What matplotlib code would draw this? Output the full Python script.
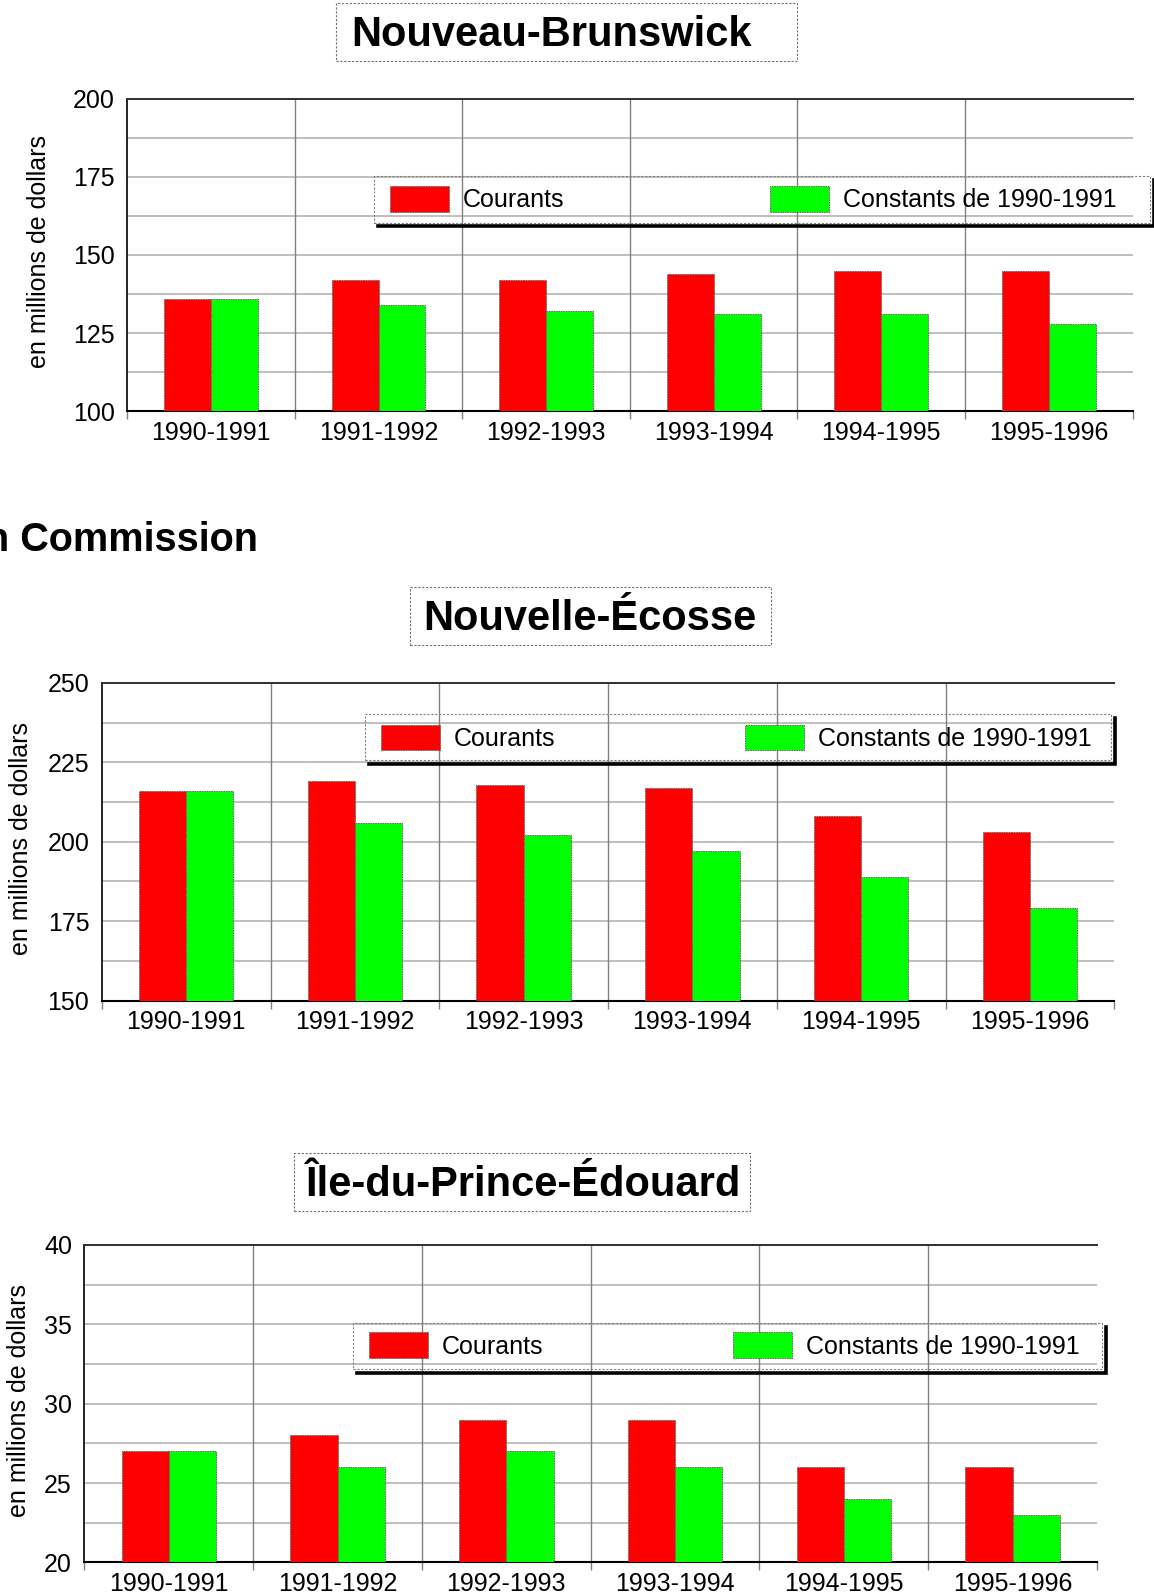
import numpy as np
import matplotlib
matplotlib.use("Agg")
import matplotlib.pyplot as plt
from matplotlib.patches import Rectangle
from matplotlib.lines import Line2D

# ─── Données (en millions de dollars) ─────────────────────────────────────────
PERIODES = ["1990-1991", "1991-1992", "1992-1993",
            "1993-1994", "1994-1995", "1995-1996"]

NB_COURANTS  = [136, 142, 142, 144, 145, 145]
NB_CONSTANTS = [136, 134, 132, 131, 131, 128]
NB_YTICKS    = [100, 125, 150, 175, 200]

NE_COURANTS  = [216, 219, 218, 217, 208, 203]
NE_CONSTANTS = [216, 206, 202, 197, 189, 179]
NE_YTICKS    = [150, 175, 200, 225, 250]

IPE_COURANTS  = [27, 28, 29, 29, 26, 26]
IPE_CONSTANTS = [27, 26, 27, 26, 24, 23]
IPE_YTICKS    = [20, 25, 30, 35, 40]

SERIES = ["Courants", "Constants de 1990-1991"]
YLABEL = "en millions de dollars"
FS = 18

plt.rcParams["font.family"] = ["Liberation Sans", "DejaVu Sans"]

# page layout grid in px (origin top-left)
W, H = 1134, 1568


def fx(px):
    return px / W


def fy(py):
    return 1 - py / H


fig = plt.figure(figsize=(11.54, 15.96), dpi=100)
fig.patch.set_facecolor("white")


def title_box(text, box, text_x):
    x0, y0, x1, y1 = box
    fig.patches.append(Rectangle((fx(x0), fy(y1)), fx(x1) - fx(x0), fy(y0) - fy(y1),
                                 transform=fig.transFigure, fill=False,
                                 ec="#707070", lw=0.8, ls=(0, (2, 1.5))))
    fig.text(fx(text_x), fy((y0 + y1) / 2 + 3), text, ha="left", va="center",
             fontsize=30, fontweight="bold")


def panel(rect, courants, constants, yticks, leg_box, leg_anchor, colspace, ylab_x):
    l, t, r, b = rect
    ax = fig.add_axes([fx(l), fy(b), fx(r) - fx(l), fy(t) - fy(b)])
    x = np.arange(len(PERIODES))
    w = 0.28
    bar_kw = dict(width=w, edgecolor="#606060", linewidth=0.7,
                  linestyle=(0, (1.5, 1)), zorder=3)
    b1 = ax.bar(x - w / 2, courants, color="#ff0000", label=SERIES[0], **bar_kw)
    b2 = ax.bar(x + w / 2, constants, color="#00ff00", label=SERIES[1], **bar_kw)

    step = yticks[1] - yticks[0]
    ax.set_ylim(yticks[0], yticks[-1])
    ax.set_xlim(-0.5, len(PERIODES) - 0.5)
    ax.set_yticks(yticks)
    ax.set_yticks(np.array(yticks[:-1]) + step / 2, minor=True)
    ax.set_xticks(x)
    ax.set_xticklabels(PERIODES)
    ax.set_xticks(np.arange(-0.5, len(PERIODES)), minor=True)

    ax.tick_params(axis="x", which="major", length=0, pad=7, labelsize=FS)
    ax.tick_params(axis="x", which="minor", length=6, width=1, color="#808080",
                   direction="out")
    ax.tick_params(axis="y", which="both", length=0, pad=9, labelsize=FS)

    ax.set_axisbelow(True)
    ax.grid(axis="y", which="both", color="#b4b4b4", linewidth=1.2)
    for bd in np.arange(0.5, len(PERIODES) - 1):
        ax.axvline(bd, color="#808080", lw=1.0, zorder=1)

    ax.spines["right"].set_visible(False)
    ax.spines["top"].set_color("#303030")
    ax.spines["top"].set_linewidth(1.4)
    ax.spines["left"].set_linewidth(1.2)
    ax.spines["bottom"].set_linewidth(1.5)

    ax.set_ylabel(YLABEL, fontsize=FS)
    ax.yaxis.label.set_verticalalignment("center")
    ax.yaxis.set_label_coords(ylab_x, 0.51)

    ax.legend(handles=[b1, b2], loc="center left", bbox_to_anchor=leg_anchor,
              ncol=2, frameon=False, fontsize=FS, borderpad=0, borderaxespad=0,
              handlelength=2.36, handleheight=1.2, handletextpad=0.55,
              columnspacing=colspace)

    # dashed legend frame with a black drop shadow on bottom/right
    x0, y0, x1, y1 = leg_box
    ax.add_patch(Rectangle((x0, y0), x1 - x0, y1 - y0, transform=ax.transAxes,
                           fill=False, ec="#808080", lw=0.8, ls=(0, (2, 1.5)),
                           clip_on=False, zorder=5))
    dx, dy = 0.004, 0.011
    ax.add_line(Line2D([x0 + dx, x1 + dx, x1 + dx], [y0 - dy, y0 - dy, y1 - dy],
                       transform=ax.transAxes, color="black", lw=2.6,
                       clip_on=False, zorder=5, solid_joinstyle="miter"))
    return ax


# ─── Nouveau-Brunswick ────────────────────────────────────────────────────────
title_box("Nouveau-Brunswick", (330, 3, 783, 60), 345)
panel((125, 97, 1113, 404), NB_COURANTS, NB_CONSTANTS, NB_YTICKS,
      (0.245, 0.603, 1.017, 0.752), (0.261, 0.678), 8.25, -0.088)

fig.text(fx(-15), fy(531), "n Commission", ha="left", va="center",
         fontsize=28.5, fontweight="bold")

# ─── Nouvelle-Écosse ──────────────────────────────────────────────────────────
title_box("Nouvelle-Écosse", (403, 577, 758, 634), 416)
panel((100, 671, 1095, 983), NE_COURANTS, NE_CONSTANTS, NE_YTICKS,
      (0.260, 0.756, 0.997, 0.901), (0.276, 0.827), 7.6, -0.080)

# ─── Île-du-Prince-Édouard ────────────────────────────────────────────────────
title_box("Île-du-Prince-Édouard", (289, 1133, 737, 1190), 300)
panel((83, 1223, 1078, 1535), IPE_COURANTS, IPE_CONSTANTS, IPE_YTICKS,
      (0.265, 0.609, 1.005, 0.753), (0.281, 0.683), 7.6, -0.065)

fig.savefig("out.png", dpi=100)
